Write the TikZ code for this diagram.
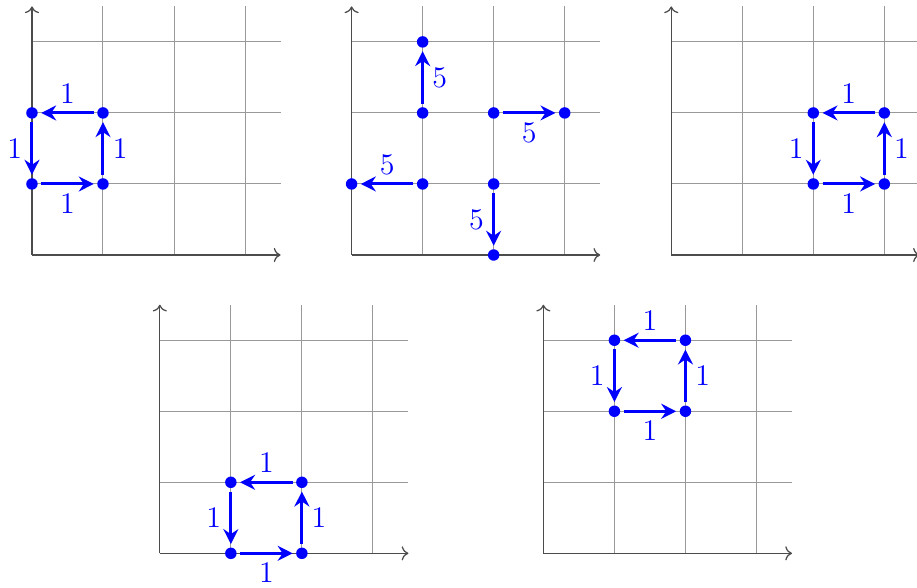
\documentclass[tikz,border=0pt]{standalone}
\usepackage{tikz}
\usetikzlibrary{arrows, arrows.meta, positioning, calc}

%% grid with axes for one panel
\newcommand{\latticegrid}{%
  \draw[gridline] (0,1) -- (3.5,1) (0,2) -- (3.5,2) (0,3) -- (3.5,3);
  \draw[gridline] (1,0) -- (1,3.5) (2,0) -- (2,3.5) (3,0) -- (3,3.5);
  \draw[axis] (0,0) -- (3.5,0);
  \draw[axis] (0,0) -- (0,3.5);
}

\begin{document}
\begin{tikzpicture}[
  gridline/.style={draw=black!40, line width=0.4pt},
  axis/.style={->, draw=black!70, line width=0.5pt},
  dot/.style={circle, fill=blue, inner sep=0pt, minimum size=4.6pt,
              outer sep=1.4pt},
  move/.style={-{Stealth[length=6pt, width=6pt, inset=2pt]}, draw=blue,
               very thick},
  wt/.style={auto=right, text=blue, font=\large}
]
\useasboundingbox (-0.45,-4.676) rectangle (12.46,3.59);

%% --- Panel 1 (top left) ---
\begin{scope}
  \latticegrid
  \node[dot] (a1) at (0,1) {};
  \node[dot] (a2) at (1,1) {};
  \node[dot] (a3) at (1,2) {};
  \node[dot] (a4) at (0,2) {};
  \draw[move] (a1) -- node[wt]{$1$} (a2);
  \draw[move] (a2) -- node[wt]{$1$} (a3);
  \draw[move] (a3) -- node[wt]{$1$} (a4);
  \draw[move] (a4) -- node[wt]{$1$} (a1);
\end{scope}

%% --- Panel 2 (top middle) ---
\begin{scope}[xshift=4.5cm]
  \latticegrid
  \node[dot] (b1) at (1,1) {};
  \node[dot] (b2) at (0,1) {};
  \node[dot] (b3) at (1,2) {};
  \node[dot] (b4) at (1,3) {};
  \node[dot] (b5) at (2,2) {};
  \node[dot] (b6) at (3,2) {};
  \node[dot] (b7) at (2,1) {};
  \node[dot] (b8) at (2,0) {};
  \draw[move] (b1) -- node[wt]{$5$} (b2);
  \draw[move] (b3) -- node[wt]{$5$} (b4);
  \draw[move] (b5) -- node[wt]{$5$} (b6);
  \draw[move] (b7) -- node[wt]{$5$} (b8);
\end{scope}

%% --- Panel 3 (top right) ---
\begin{scope}[xshift=9cm]
  \latticegrid
  \node[dot] (c1) at (2,1) {};
  \node[dot] (c2) at (3,1) {};
  \node[dot] (c3) at (3,2) {};
  \node[dot] (c4) at (2,2) {};
  \draw[move] (c1) -- node[wt]{$1$} (c2);
  \draw[move] (c2) -- node[wt]{$1$} (c3);
  \draw[move] (c3) -- node[wt]{$1$} (c4);
  \draw[move] (c4) -- node[wt]{$1$} (c1);
\end{scope}

%% --- Panel 4 (bottom left) ---
\begin{scope}[xshift=1.8cm, yshift=-4.2cm]
  \latticegrid
  \node[dot] (d1) at (1,0) {};
  \node[dot] (d2) at (2,0) {};
  \node[dot] (d3) at (2,1) {};
  \node[dot] (d4) at (1,1) {};
  \draw[move] (d1) -- node[wt]{$1$} (d2);
  \draw[move] (d2) -- node[wt]{$1$} (d3);
  \draw[move] (d3) -- node[wt]{$1$} (d4);
  \draw[move] (d4) -- node[wt]{$1$} (d1);
\end{scope}

%% --- Panel 5 (bottom right) ---
\begin{scope}[xshift=7.2cm, yshift=-4.2cm]
  \latticegrid
  \node[dot] (e1) at (1,2) {};
  \node[dot] (e2) at (2,2) {};
  \node[dot] (e3) at (2,3) {};
  \node[dot] (e4) at (1,3) {};
  \draw[move] (e1) -- node[wt]{$1$} (e2);
  \draw[move] (e2) -- node[wt]{$1$} (e3);
  \draw[move] (e3) -- node[wt]{$1$} (e4);
  \draw[move] (e4) -- node[wt]{$1$} (e1);
\end{scope}

\end{tikzpicture}
\end{document}
